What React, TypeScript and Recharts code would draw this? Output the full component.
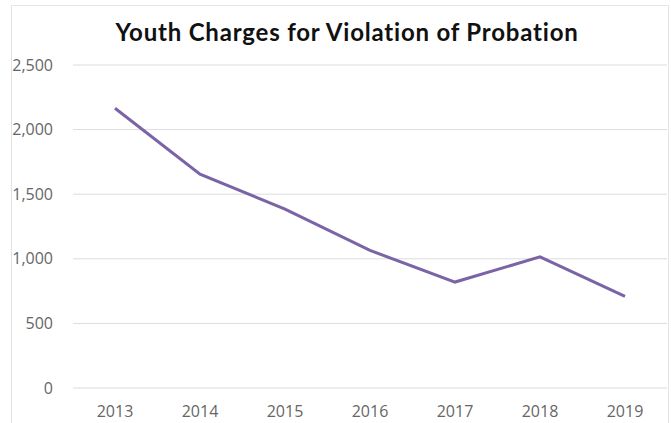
import { LineChart, Line, XAxis, YAxis, CartesianGrid } from 'recharts';

const years = ['2013', '2014', '2015', '2016', '2017', '2018', '2019'];
const charges = [2165, 1655, 1385, 1065, 820, 1015, 710];
const yTicks = [0, 500, 1000, 1500, 2000, 2500];

const data = years.map((year, i) => ({ year, charges: charges[i] }));

const labelStyle = { fill: '#666666', fontSize: 16, fontFamily: '"Open Sans", sans-serif' };

const App = () => {
    return (
        <div style={{ position: 'absolute', left: 0, top: 0, width: 671, height: 423, overflow: 'hidden', background: '#fff' }}>
            {/* chart frame, cut off at the bottom like the source */}
            <div style={{ position: 'absolute', left: 11, top: 5, width: 656, height: 440, border: '1px solid #e4e4e4' }} />
            <div
                style={{
                    position: 'absolute',
                    left: 0,
                    top: 18,
                    width: 694,
                    textAlign: 'center',
                    fontFamily: 'Lato, sans-serif',
                    fontWeight: 700,
                    fontSize: 24,
                    letterSpacing: 0.8,
                    color: '#111',
                    lineHeight: '28px'
                }}
            >
                Youth Charges for Violation of Probation
            </div>
            <div style={{ position: 'absolute', left: 0, top: 0 }}>
                <LineChart width={671} height={423} data={data} margin={{ top: 65, right: 4, bottom: 0, left: 0 }}>
                    <CartesianGrid stroke="#dcdcdc" vertical={false} />
                    <XAxis
                        dataKey="year"
                        axisLine={false}
                        tickLine={false}
                        tickSize={0}
                        tickMargin={18}
                        height={35}
                        padding={{ left: 42, right: 42 }}
                        tick={labelStyle}
                    />
                    <YAxis
                        domain={[0, 2500]}
                        ticks={yTicks}
                        axisLine={false}
                        tickLine={false}
                        tickSize={0}
                        tickMargin={20}
                        width={73}
                        tick={labelStyle}
                        tickFormatter={(v) => v.toLocaleString('en-US')}
                    />
                    <Line
                        type="linear"
                        dataKey="charges"
                        stroke="#7b64a6"
                        strokeWidth={3}
                        dot={false}
                        isAnimationActive={false}
                    />
                </LineChart>
            </div>
        </div>
    );
};

export default App;
